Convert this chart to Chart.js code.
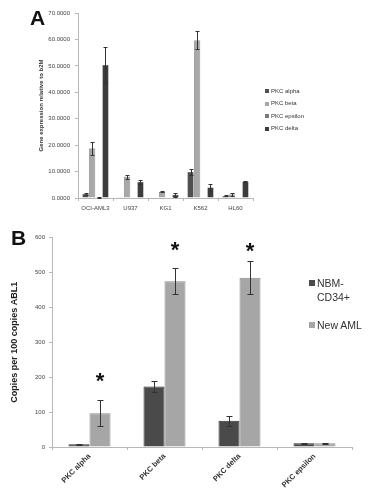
<!DOCTYPE html>
<html>
<head>
<meta charset="utf-8">
<script src="https://cdn.jsdelivr.net/npm/chart.js@4.4.1/dist/chart.umd.min.js"></script>
<style>
  html, body { margin: 0; padding: 0; background: #fff; }
  body { width: 372px; height: 500px; position: relative; overflow: hidden; font-family: 'Liberation Sans', Arial, sans-serif; }
  .panel { position: absolute; left: 0; }
  .letter { position: absolute; font-weight: bold; font-size: 21px; color: #111; }
  .legend { position: absolute; color: #333; }
  .legend .item { position: absolute; white-space: nowrap; }
  .legend .sw { display: inline-block; vertical-align: middle; }
  #legendA { font-family: 'Liberation Sans Narrow', 'Liberation Sans', sans-serif; font-size: 6px; }
  #legendB { font-size: 10.5px; line-height: 14px; }
</style>
</head>
<body>
<div class="panel" style="top:0;width:372px;height:230px"><canvas id="chartA" width="372" height="230"></canvas></div>
<div class="panel" style="top:230px;width:372px;height:270px"><canvas id="chartB" width="372" height="270"></canvas></div>
<div class="letter" style="left:30px;top:6px">A</div>
<div class="letter" style="left:11px;top:226px">B</div>
<div class="legend" id="legendA" style="left:265px;top:88px"></div>
<div class="legend" id="legendB" style="left:309px;top:276px"></div>

<script>
// ── Panel A data ──
const cellLines = ['OCI-AML3', 'U937', 'KG1', 'K562', 'HL60'];
const seriesA = ['PKC alpha', 'PKC beta', 'PKC epsilon', 'PKC delta'];
const pkcAlpha = [1.5, 0.1, 0.0, 9.8, 0.8];
const pkcBeta = [18.7, 8.0, 2.3, 59.6, 1.3];
const pkcEpsilon = [0.2, 0.0, 0.2, 0.0, 0.0];
const pkcDelta = [50.3, 6.1, 1.2, 4.0, 6.2];
const errAlpha = [0.5, 0.0, 0.0, 1.2, 0.2];
const errBeta = [2.5, 0.8, 0.2, 3.4, 0.5];
const errEpsilon = [0.1, 0.0, 0.0, 0.0, 0.0];
const errDelta = [6.8, 0.7, 0.8, 1.2, 0.3];
const ticksA = [0, 10, 20, 30, 40, 50, 60, 70];
const colorsA = ['#505050', '#a8a8a8', '#7a7a7a', '#3c3c3c'];

// ── Panel B data ──
const genes = ['PKC alpha', 'PKC beta', 'PKC delta', 'PKC epsilon'];
const seriesB = ['NBM-CD34+', 'New AML'];
const nbm = [8, 173, 75, 11];
const newAml = [97, 475, 485, 11];
const errNbm = [1.5, 15, 14, 1.5];
const errAml = [38, 37, 48, 1.5];
const starLevel = [200, 575, 572, null]; // asterisk heights (axis units)
const ticksB = [0, 100, 200, 300, 400, 500, 600];
const colorsB = ['#4a4a4a', '#a6a6a6'];

// ── Error bars drawn from each dataset's errors through the y scale ──
const errorBars = {
    id: 'errorBars',
    afterDatasetsDraw(chart, args, opts) {
        const ctx = chart.ctx;
        const y = chart.scales.y;
        ctx.save();
        ctx.strokeStyle = opts.color || '#333';
        ctx.lineWidth = 1;
        chart.data.datasets.forEach((ds, i) => {
            if (!ds.errors) return;
            chart.getDatasetMeta(i).data.forEach((bar, j) => {
                const e = ds.errors[j];
                if (!e) return;
                const v = ds.data[j];
                const top = Math.round(y.getPixelForValue(v + e)) + 0.5;
                const bot = Math.round(y.getPixelForValue(Math.max(0, v - e))) + 0.5;
                const x = Math.round(bar.x) + 0.5;
                const cap = opts.cap || 2;
                ctx.beginPath();
                ctx.moveTo(x, top); ctx.lineTo(x, bot);
                ctx.moveTo(x - cap, top); ctx.lineTo(x + cap, top);
                ctx.moveTo(x - cap, bot); ctx.lineTo(x + cap, bot);
                ctx.stroke();
            });
        });
        ctx.restore();
    }
};

// ── Asterisks above significant bars ──
const stars = {
    id: 'stars',
    afterDatasetsDraw(chart, args, opts) {
        if (!opts.levels) return;
        const ctx = chart.ctx;
        const y = chart.scales.y;
        const meta = chart.getDatasetMeta(opts.dataset);
        ctx.save();
        ctx.fillStyle = '#111';
        ctx.font = 'bold 22px "Liberation Sans", Arial, sans-serif';
        ctx.textAlign = 'center';
        ctx.textBaseline = 'middle';
        meta.data.forEach((bar, j) => {
            const lvl = opts.levels[j];
            if (lvl == null) return;
            ctx.fillText('*', bar.x, y.getPixelForValue(lvl) + 5);
        });
        ctx.restore();
    }
};

Chart.defaults.animation = false;
Chart.defaults.font.family = "'Liberation Sans', Arial, sans-serif";

const axisGrey = '#b8b8b8';

// ── Chart A ──
new Chart(document.getElementById('chartA'), {
    type: 'bar',
    data: {
        labels: cellLines,
        datasets: [pkcAlpha, pkcBeta, pkcEpsilon, pkcDelta].map((d, i) => ({
            label: seriesA[i],
            data: d,
            errors: [errAlpha, errBeta, errEpsilon, errDelta][i],
            backgroundColor: colorsA[i],
            borderColor: '#2a2a2a',
            borderWidth: 0.5,
            categoryPercentage: 0.76,
            barPercentage: 0.92
        }))
    },
    options: {
        responsive: false,
        layout: { padding: { left: 0, right: 119, top: 13, bottom: 0 } },
        plugins: {
            legend: { display: false },
            tooltip: { enabled: false },
            errorBars: { cap: 2, color: '#333' }
        },
        scales: {
            x: {
                afterFit: s => { s.height = 32; },
                border: { color: axisGrey },
                grid: { drawOnChartArea: false, tickLength: 3, color: axisGrey },
                ticks: { color: '#444', padding: 4, font: { size: 6, family: "'Liberation Sans Narrow', 'Liberation Sans', sans-serif" } }
            },
            y: {
                min: 0, max: 70,
                afterFit: s => { s.width = 78; },
                afterBuildTicks: s => { s.ticks = ticksA.map(v => ({ value: v })); },
                border: { color: axisGrey },
                grid: { drawOnChartArea: false, tickLength: 3, color: axisGrey },
                ticks: { color: '#444', padding: 5, callback: v => v.toFixed(4), font: { size: 6, family: "'Liberation Sans Narrow', 'Liberation Sans', sans-serif" } },
                title: {
                    display: true,
                    text: 'Gene expression relative to b2M',
                    color: '#333',
                    padding: { top: 38, bottom: 0 },
                    font: { size: 6, weight: 'bold', family: "'Liberation Sans Narrow', 'Liberation Sans', sans-serif" }
                }
            }
        }
    },
    plugins: [errorBars]
});

// ── Chart B ──
new Chart(document.getElementById('chartB'), {
    type: 'bar',
    data: {
        labels: genes,
        datasets: [nbm, newAml].map((d, i) => ({
            label: seriesB[i],
            data: d,
            errors: [errNbm, errAml][i],
            backgroundColor: colorsB[i],
            borderColor: i === 0 ? '#2e2e2e' : '#8c8c8c',
            borderWidth: 1,
            categoryPercentage: 0.56,
            barPercentage: 1
        }))
    },
    options: {
        responsive: false,
        layout: { padding: { left: 0, right: 20, top: 5, bottom: 0 } },
        plugins: {
            legend: { display: false },
            tooltip: { enabled: false },
            errorBars: { cap: 3, color: '#333' },
            stars: { dataset: 1, levels: starLevel }
        },
        scales: {
            x: {
                afterFit: s => { s.height = 53; },
                border: { color: axisGrey },
                grid: { drawOnChartArea: false, tickLength: 3, color: axisGrey },
                ticks: { color: '#333', padding: 2, minRotation: 45, maxRotation: 45, font: { size: 7.5, weight: 'bold' } }
            },
            y: {
                min: 0, max: 600,
                afterFit: s => { s.width = 52; },
                afterBuildTicks: s => { s.ticks = ticksB.map(v => ({ value: v })); },
                border: { color: axisGrey },
                grid: { drawOnChartArea: false, tickLength: 3, color: axisGrey },
                ticks: { color: '#444', padding: 4, font: { size: 6 } },
                title: {
                    display: true,
                    text: 'Copies per 100 copies ABL1',
                    color: '#222',
                    padding: { top: 9, bottom: 0 },
                    font: { size: 9, weight: 'bold' }
                }
            }
        }
    },
    plugins: [errorBars, stars]
});

// ── HTML legends ──
const legA = document.getElementById('legendA');
seriesA.forEach((name, i) => {
    const el = document.createElement('div');
    el.className = 'item';
    el.style.top = (i * 12.4) + 'px';
    el.innerHTML = `<span class="sw" style="width:4px;height:4px;background:${colorsA[i]};margin-right:2px"></span>${name}`;
    legA.appendChild(el);
});

const legB = document.getElementById('legendB');
const legBText = ['NBM-<br>CD34+', 'New AML'];
seriesB.forEach((name, i) => {
    const el = document.createElement('div');
    el.className = 'item';
    el.style.top = (i * 42) + 'px';
    el.innerHTML = `<span class="sw" style="width:6px;height:6px;background:${colorsB[i]};margin-right:2px;vertical-align:top;margin-top:4px"></span><span style="display:inline-block;vertical-align:top">${legBText[i]}</span>`;
    legB.appendChild(el);
});
</script>
</body>
</html>
